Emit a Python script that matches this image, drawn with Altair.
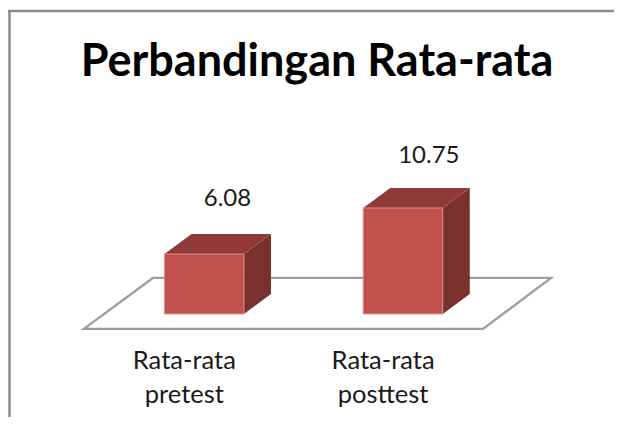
import altair as alt
import pandas as pd

title_text = "Perbandingan Rata-rata"
categories = ["Rata-rata pretest", "Rata-rata posttest"]
values = [6.08, 10.75]
positions = [0, 1]

# Oblique projection constants, in axis units
half_w = 0.2
depth_x = 0.136
depth_y = 2.03
floor_front, floor_back = -1.52, 3.65
floor_left, floor_right = -0.605, 1.4025
label_dx = [0.117, 0.13]
label_lift = [5.53, 5.25]
FRONT, TOP, SIDE = "#C0504D", "#8F3A38", "#7A302E"
EDGE = "#DC8F8C"
FRAME = "#8C8C8C"
FLOOR = "#9E9E9E"
FONT = "Lato"

xs = alt.Scale(domain=[-0.987, 2.0616], nice=False, zero=False)
ys = alt.Scale(domain=[-10.45, 31.03], nice=False, zero=False)
X = lambda f: alt.X(f, type="quantitative", scale=xs, axis=None, title=None)
Y = lambda f: alt.Y(f, type="quantitative", scale=ys, axis=None, title=None)

front = pd.DataFrame({
    "label": categories, "v": values,
    "x0": [p - half_w for p in positions],
    "x1": [p + half_w for p in positions],
    "base": [0.0, 0.0],
})
front["tx"] = [p + d for p, d in zip(positions, label_dx)]
front["ty"] = [v + l for v, l in zip(values, label_lift)]
front["cx"] = [p - 0.1 for p in positions]
front["cy"] = -3.58

side = pd.DataFrame(
    [{"id": c, "x": p + half_w, "lo": 0.0, "hi": v} for c, p, v in zip(categories, positions, values)]
    + [{"id": c, "x": p + half_w + depth_x, "lo": depth_y, "hi": v + depth_y} for c, p, v in zip(categories, positions, values)]
)
top = pd.DataFrame(
    [{"id": c, "y": v, "a": p - half_w, "b": p + half_w} for c, p, v in zip(categories, positions, values)]
    + [{"id": c, "y": v + depth_y, "a": p - half_w + depth_x, "b": p + half_w + depth_x} for c, p, v in zip(categories, positions, values)]
)
floor = pd.DataFrame({
    "y": [floor_front, floor_back],
    "a": [floor_left, floor_left + 0.347],
    "b": [floor_right, floor_right + 0.3425],
})

floor_l = alt.Chart(floor).mark_area(orient="horizontal", fill="white", stroke=FLOOR, strokeWidth=2.3).encode(
    y=Y("y"), x=X("a"), x2="b")
side_l = alt.Chart(side).mark_area(orient="vertical", color=SIDE).encode(
    x=X("x"), y=Y("lo"), y2="hi", detail="id:N")
top_l = alt.Chart(top).mark_area(orient="horizontal", color=TOP).encode(
    y=Y("y"), x=X("a"), x2="b", detail="id:N")
front_l = alt.Chart(front).mark_rect(fill=FRONT, stroke=EDGE, strokeWidth=1).encode(
    x=X("x0"), x2="x1", y=Y("base"), y2="v")
value_l = alt.Chart(front).mark_text(font=FONT, fontSize=24, color="#1A1A1A").encode(
    x=X("tx"), y=Y("ty"), text=alt.Text("v:Q", format=".2f"))
cat_l = alt.Chart(front).mark_text(font=FONT, fontSize=25.5, color="#1A1A1A", lineBreak=" ", lineHeight=34,
                                   baseline="top").encode(
    x=X("cx"), y=Y("cy"), text="label:N")
frame_top = alt.Chart(front.head(1)).mark_rule(color=FRAME, strokeWidth=2.5).encode(
    x=alt.value(0), x2=alt.value(606), y=alt.value(3))
frame_left = alt.Chart(front.head(1)).mark_rule(color=FRAME, strokeWidth=2.5).encode(
    x=alt.value(1.5), y=alt.value(3), y2=alt.value(409))

chart = alt.layer(
    floor_l, side_l, top_l, front_l, value_l, cat_l, frame_top, frame_left
).properties(
    width=606, height=409, padding=0,
    autosize=alt.AutoSizeParams(type="none"),
    title=alt.TitleParams(title_text, font=FONT, fontSize=45, fontWeight="bold", color="black",
                          anchor="middle", offset=0, dx=6, dy=113, baseline="alphabetic", frame="group"),
).configure_view(stroke=None)

chart.save("out.html", embed_options={"renderer": "svg", "actions": False})
